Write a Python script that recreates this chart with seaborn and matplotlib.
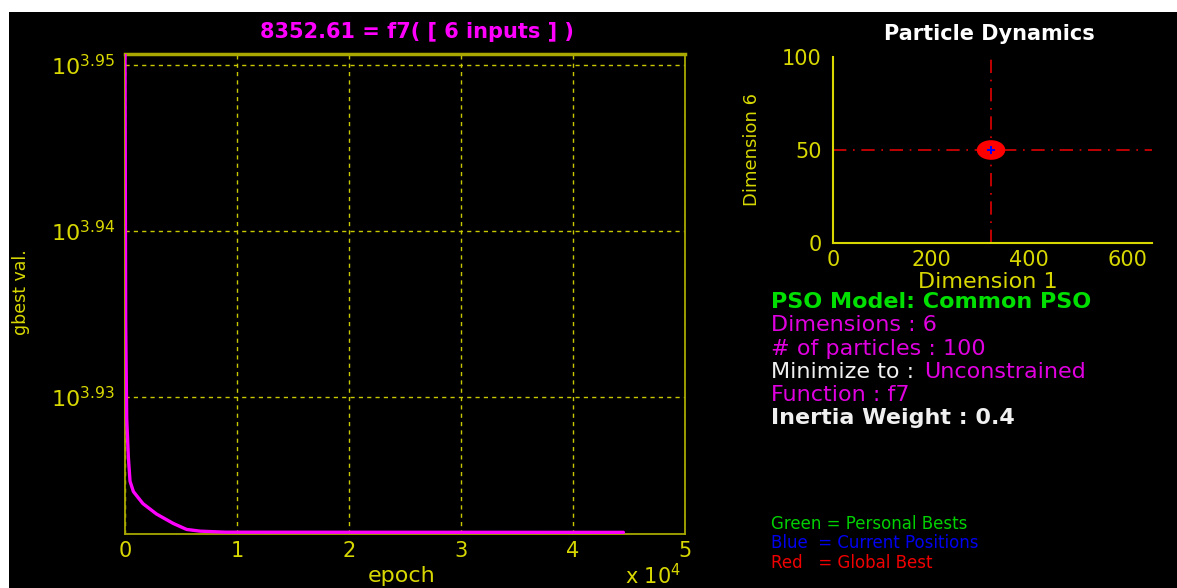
import matplotlib
matplotlib.use("Agg")
import matplotlib.pyplot as plt
from matplotlib.patches import Rectangle
from matplotlib.path import Path
from matplotlib.transforms import Affine2D
import seaborn as sns
import pandas as pd

# convergence curve
epochs = [0, 60, 150, 300, 450, 750, 1600, 2800, 4300, 5500, 6700, 9000, 44500]
gbest = [8926, 8600, 8486, 8440, 8412, 8400, 8386, 8374, 8363, 8356, 8354, 8352.8, 8352.61]
final_val = 8352.61

y_ticks = [10 ** 3.93, 10 ** 3.94, 10 ** 3.95]
y_tick_labels = ["$\\mathregular{10^{3.93}}$", "$\\mathregular{10^{3.94}}$", "$\\mathregular{10^{3.95}}$"]
x_ticks = [0, 10000, 20000, 30000, 40000, 50000]
x_tick_labels = ["0", "1", "2", "3", "4", "5"]

# particle dynamics panel
gbest_pos = (322.5, 50)
dyn_x_ticks = [0, 200, 400, 600]
dyn_y_ticks = [0, 50, 100]

# info text block
info_lines = [
    ("PSO Model: Common PSO", "#00e000", "bold"),
    ("Dimensions : 6", "#e000e0", "normal"),
    ("# of particles : 100", "#e000e0", "normal"),
    ("Minimize to : ", "#f0f0f0", "normal"),
    ("Function : f7", "#e000e0", "normal"),
    ("Inertia Weight : 0.4", "#f0f0f0", "bold"),
]
legend_lines = [
    ("Green = Personal Bests", "#00d000"),
    ("Blue  = Current Positions", "#0000f0"),
    ("Red   = Global Best", "#f00000"),
]

W, H = 1177, 588
YEL = "#d8d800"
OLIVE = "#a8a800"
FS = 15

sns.set_style("dark")
plt.rcParams["font.family"] = ["DejaVu Sans"]
plt.rcParams["mathtext.fontset"] = "dejavusans"

fig = plt.figure(figsize=(W / 100, H / 100), dpi=100, facecolor="white")
fig.patches.append(Rectangle((9 / W, 0), 1 - 9 / W, 1 - 12 / H, transform=fig.transFigure,
                             facecolor="black", edgecolor="none", zorder=-10))


def px(x, y):
    return x / W, 1 - y / H


# ---- left: gbest vs epoch ----
ax = fig.add_axes([125 / W, (H - 534) / H, 560 / W, 480 / H])
ax.set_facecolor("black")
df = pd.DataFrame({"epoch": epochs, "gbest": gbest})
sns.lineplot(data=df, x="epoch", y="gbest", ax=ax, color="#ff00ff", linewidth=2.4, zorder=5)
ax.set_yscale("log")
ax.set_xlim(0, 50000)
ax.set_ylim(8350.7, 8926)
ax.set_yticks(y_ticks)
ax.set_yticklabels(y_tick_labels)
ax.minorticks_off()
ax.set_xticks(x_ticks)
ax.set_xticklabels(x_tick_labels)
ax.grid(True, color="#c8c800", linestyle=(0, (3, 3)), linewidth=1.0)
ax.tick_params(colors=YEL, labelsize=FS, direction="in", length=5, pad=5)
ax.tick_params(axis="y", labelsize=16, pad=7)
for s in ax.spines.values():
    s.set_color(OLIVE)
    s.set_linewidth(1.3)
    s.set_visible(True)
ax.spines["top"].set_linewidth(2.5)
ax.set_xlabel("")
ax.set_ylabel("")
fig.text(*px(402, 576), "epoch", color=YEL, fontsize=16, ha="center", va="center")
fig.text(*px(21, 292), "gbest val.", color=YEL, fontsize=12.5, rotation=90,
         ha="center", va="center")
fig.text(*px(417, 32), f"{final_val} = f7( [ 6 inputs ] )", color="#ff00ff",
         fontsize=FS, fontweight="bold", ha="center", va="center")
fig.text(*px(625, 588), "x 10$^{\\mathregular{4}}$", color=YEL, fontsize=FS, va="bottom")

# ---- right: particle dynamics ----
ax2 = fig.add_axes([833 / W, (H - 243) / H, 319 / W, 186 / H])
ax2.set_facecolor("black")
ax2.set_xlim(0, 651)
ax2.set_ylim(0, 100)
ax2.axvline(gbest_pos[0], color="#e00000", linestyle=(0, (8, 4, 1, 4)), linewidth=1.2)
ax2.axhline(gbest_pos[1], color="#e00000", linestyle=(0, (8, 4, 1, 4)), linewidth=1.2)
oval = Path.unit_circle().transformed(Affine2D().scale(1.45, 1.0))
pts = pd.DataFrame({"d1": [gbest_pos[0]], "d6": [gbest_pos[1]]})
sns.scatterplot(data=pts, x="d1", y="d6", ax=ax2, color="#ff0000", s=420, marker=oval,
                edgecolor="none", zorder=5)
sns.scatterplot(data=pts, x="d1", y="d6", ax=ax2, color="#0000ff", s=28, marker="P",
                edgecolor="none", zorder=6)
ax2.set_xticks(dyn_x_ticks)
ax2.set_yticks(dyn_y_ticks)
ax2.grid(False)
ax2.tick_params(colors=YEL, labelsize=FS, direction="in", length=4)
ax2.tick_params(axis="x", pad=5)
ax2.tick_params(axis="y", length=0, pad=8)
for side in ["top", "right"]:
    ax2.spines[side].set_visible(False)
for side in ["left", "bottom"]:
    ax2.spines[side].set_visible(True)
    ax2.spines[side].set_color(YEL)
    ax2.spines[side].set_linewidth(1.5)
ax2.set_xlabel("")
ax2.set_ylabel("")
fig.text(*px(988, 282), "Dimension 1", color=YEL, fontsize=16, ha="center", va="center")
fig.text(*px(752, 150), "Dimension 6", color=YEL, fontsize=13, rotation=90,
         ha="center", va="center")
fig.text(*px(989, 34), "Particle Dynamics", color="white", fontsize=FS,
         fontweight="bold", ha="center", va="center")

# ---- text block ----
y0 = 302
for i, (txt, col, wt) in enumerate(info_lines):
    fig.text(*px(771, y0 + i * 23.3), txt, color=col, fontsize=16, fontweight=wt,
             va="center", ha="left")
fig.text(*px(924, y0 + 3 * 23.3), "Unconstrained", color="#e000e0", fontsize=16,
         va="center", ha="left")
for i, (txt, col) in enumerate(legend_lines):
    fig.text(*px(771, 524 + i * 19.5), txt, color=col, fontsize=12, va="center", ha="left")

fig.savefig("out.png", dpi=100, facecolor=fig.get_facecolor())
